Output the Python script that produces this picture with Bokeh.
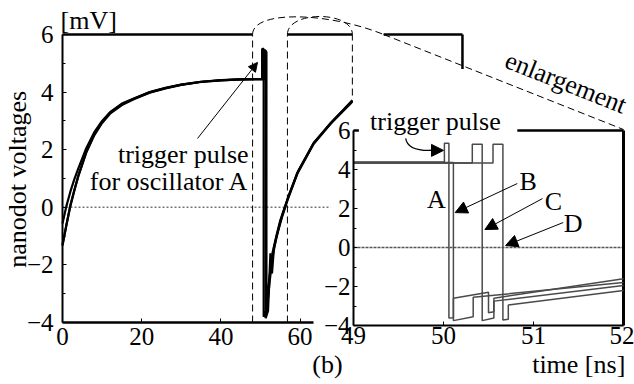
from bokeh.plotting import figure
from bokeh.models import Range1d, LinearAxis, FixedTicker, Label, Arrow, NormalHead
from bokeh.embed import file_html
from bokeh.resources import INLINE

# ---------------- data ----------------
# main panel: nanodot voltages [mV] vs time [ns] (overlapping oscillator traces)
main_t_a = [0, 1, 2, 3, 4, 6, 8, 10, 12, 15, 18, 22, 26, 30, 35, 40, 45, 50.4, 50.4, 50.8, 50.8,
            51.6, 52.3, 53.0, 54.0, 55.0, 56.8, 59.3, 63.4, 67.7, 72.7, 73.2]
main_v_a = [-1.33, -0.6, 0.05, 0.6, 1.08, 1.9, 2.5, 2.93, 3.25, 3.55, 3.75, 3.98, 4.13, 4.25, 4.35, 4.41, 4.44, 4.45, 5.5, 5.5, -3.8,
            -3.55, -2.6, -1.75, -1.05, -0.5, 0.24, 1.17, 2.2, 2.9, 3.6, 3.67]
main_t_b = [0, 1, 2, 3, 4, 6, 8, 10, 12, 15, 18, 22, 26, 30, 35, 40, 45, 50.9, 50.9, 51.3, 51.3,
            51.9, 52.5, 52.9, 53.4, 54.5, 55.5, 57.0, 59.5, 63.5, 68.0, 73.2]
main_v_b = [-0.56, 0.05, 0.55, 0.98, 1.35, 2.05, 2.6, 3.0, 3.3, 3.6, 3.78, 4.0, 4.15, 4.26, 4.36, 4.42, 4.44, 4.45, 5.45, 5.45, -3.85,
            -3.6, -1.6, -2.3, -1.4, -0.8, -0.3, 0.35, 1.25, 2.25, 2.95, 3.72]
main_t_c = [0, 2, 4, 6, 8, 10, 12, 15, 18, 22, 26, 30, 35, 40, 45, 51.2, 51.2, 51.5, 51.5,
            52.2, 53.0, 54.0, 55.0, 56.8, 59.3, 63.4, 67.7, 73.2]
main_v_c = [-1.3, 0.08, 1.1, 1.92, 2.52, 2.96, 3.28, 3.58, 3.77, 3.99, 4.14, 4.26, 4.36, 4.41, 4.44, 4.45, 5.4, 5.4, -3.7,
            -2.5, -1.6, -1.0, -0.45, 0.28, 1.2, 2.22, 2.93, 3.7]

# enlargement panel: oscillators A-D, 49-52 ns
ins_t_A = [49.0, 50.01, 50.01, 50.06, 50.06, 50.11, 50.11, 50.50, 50.50, 50.56, 50.56, 52.0]
ins_v_A = [4.38, 4.38, 5.35, 5.35, -3.62, -3.6, -2.6, -2.3, -3.35, -3.3, -2.6, -1.6]
ins_t_B = [49.0, 50.11, 50.11, 50.33, 50.33, 52.0]
ins_v_B = [4.36, 4.36, -3.75, -3.55, -2.55, -1.8]
ins_t_C = [49.0, 50.32, 50.32, 50.43, 50.43, 50.56, 50.56, 52.0]
ins_v_C = [4.33, 4.33, 5.3, 5.3, -3.75, -3.62, -2.75, -1.95]
ins_t_D = [49.0, 50.55, 50.55, 50.66, 50.66, 50.72, 50.72, 52.0]
ins_v_D = [4.33, 4.33, 5.3, 5.3, -3.72, -3.68, -2.95, -2.2]

main_x_ticks = [0, 20, 40, 60]
main_y_ticks = [-4, -2, 0, 2, 4, 6]
main_y_minor = [-3, -1, 1, 3, 5]
ins_x_ticks = [49, 50, 51, 52]
ins_y_ticks = [-4, -2, 0, 2, 4, 6]
ins_y_minor = [-3, -1, 1, 3, 5]

# ---------------- layout (canvas pixels) ----------------
W, H = 634, 384
MX0, MPX = 62.0, 3.96     # main: t=0 at canvas x, px per ns
MY6, MPY = 34.0, 28.8     # main: v=6 at canvas y, px per mV
IX49, IPX = 353.0, 90.0   # inset: t=49 at canvas x, px per ns
IY6, IPY = 130.0, 19.5    # inset: v=6 at canvas y, px per mV

main_x = Range1d(-MX0 / MPX, (W - MX0) / MPX)
main_y = Range1d(6 - (H - MY6) / MPY, 6 + MY6 / MPY)
ins_x = Range1d(49 - IX49 / IPX, 49 + (W - IX49) / IPX)
ins_y = Range1d(6 - (H - IY6) / IPY, 6 + IY6 / IPY)


def i2m(t, v):
    """inset data -> main data coordinates"""
    cx = IX49 + (t - 49) * IPX
    cy = IY6 - (v - 6) * IPY
    return (cx - MX0) / MPX, 6 - (cy - MY6) / MPY


FONT = "Liberation Serif"

p = figure(width=W, height=H, x_range=main_x, y_range=main_y,
           output_backend="svg", toolbar_location=None,
           x_axis_location=None, y_axis_location=None,
           min_border=0, outline_line_color=None,
           background_fill_color="white", border_fill_color="white")
p.grid.visible = False
p.extra_x_ranges = {"ix": ins_x}
p.extra_y_ranges = {"iy": ins_y}


def style(ax, size="25px", standoff=4, lw=2):
    ax.axis_line_width = lw
    ax.axis_line_color = "black"
    ax.major_tick_in = 4
    ax.major_tick_out = 0
    ax.minor_tick_in = 3
    ax.minor_tick_out = 0
    ax.major_tick_line_color = "black"
    ax.minor_tick_line_color = "black"
    ax.major_label_text_font = FONT
    ax.major_label_text_font_size = size
    ax.major_label_text_color = "black"
    ax.major_label_standoff = standoff


# main axes
ax = LinearAxis(fixed_location=-4, bounds=(0, 63.4),
                ticker=FixedTicker(ticks=main_x_ticks, minor_ticks=[]))
style(ax, standoff=5, lw=2.5)
p.add_layout(ax, "below")
ay = LinearAxis(fixed_location=0, bounds=(-4, 6),
                ticker=FixedTicker(ticks=main_y_ticks, minor_ticks=main_y_minor))
style(ay, standoff=9)
p.add_layout(ay, "left")

# inset axes
bx = LinearAxis(x_range_name="ix", y_range_name="iy", fixed_location=-4, bounds=(49, 52),
                ticker=FixedTicker(ticks=ins_x_ticks, minor_ticks=[]))
style(bx, standoff=1)
p.add_layout(bx, "below")
by = LinearAxis(x_range_name="ix", y_range_name="iy", fixed_location=49, bounds=(-4, 6),
                ticker=FixedTicker(ticks=ins_y_ticks, minor_ticks=ins_y_minor))
style(by, standoff=3)
p.add_layout(by, "left")

DASH = "7 4"
# ---- main decorations ----
X_L, X_R, X_RR, X_END = 48.0, 56.8, 73.2, 101.0
OUT_END = 81.1
# frame top / right pieces
p.segment(x0=[0, X_R, OUT_END], y0=[6, 6, 6], x1=[X_L, X_RR, X_END], y1=[6, 6, 6],
          line_color="black", line_width=2.5)
p.segment(x0=[X_END], y0=[6], x1=[X_END], y1=[4.8], line_color="black", line_width=2.5)
# zero reference line
p.segment(x0=[0], y0=[0], x1=[67.7], y1=[0], line_color="#777777", line_width=1.6, line_dash="2 2")
# dashed verticals
p.segment(x0=[X_L, X_R, X_RR], y0=[-4, -4, 3.88], x1=[X_L, X_R, X_RR], y1=[6, 6, 6],
          line_color="black", line_width=1, line_dash=DASH)
# dashed arcs
top = 6 + 24 / MPY
p.bezier(x0=[X_R], y0=[6], x1=[X_RR], y1=[6], cx0=[X_R], cy0=[top], cx1=[X_RR], cy1=[top],
         line_color="black", line_width=1, line_dash=DASH)
ex, ey = i2m(52, 6.05)
slope = (ey - 6) / (ex - OUT_END)
p.bezier(x0=[X_L], y0=[6], x1=[OUT_END], y1=[6], cx0=[X_L], cy0=[top + 0.02],
         cx1=[OUT_END - 14], cy1=[6 - 14 * slope + 0.02], line_color="black", line_width=1, line_dash=DASH)
p.segment(x0=[OUT_END], y0=[6], x1=[ex], y1=[ey], line_color="black", line_width=1, line_dash=DASH)

# main traces
for t, v in [(main_t_a, main_v_a), (main_t_b, main_v_b), (main_t_c, main_v_c)]:
    p.line(t, v, line_color="black", line_width=2.2)

# ---- inset ----
p.segment(x0=[49], y0=[0], x1=[52], y1=[0], x_range_name="ix", y_range_name="iy",
          line_color="#555555", line_width=1.6, line_dash="3 1")
p.segment(x0=[50.82, 49.0], y0=[6, 6], x1=[52.0, 49.06], y1=[6, 6], x_range_name="ix", y_range_name="iy",
          line_color="black", line_width=2.5)
p.segment(x0=[52], y0=[-4], x1=[52], y1=[6], x_range_name="ix", y_range_name="iy",
          line_color="black", line_width=3)
for t, v in [(ins_t_A, ins_v_A), (ins_t_B, ins_v_B), (ins_t_C, ins_v_C), (ins_t_D, ins_v_D)]:
    p.line(t, v, x_range_name="ix", y_range_name="iy", line_color="#4a4a4a", line_width=1.5)

# ---- texts ----
def lab(text, x, y, rng=None, align="left", base="alphabetic", angle=0, size="26px"):
    kw = dict(x_range_name="ix", y_range_name="iy") if rng == "i" else {}
    p.add_layout(Label(x=x, y=y, text=text, text_font=FONT, text_font_size=size,
                       text_align=align, text_baseline=base, angle=angle, angle_units="deg",
                       text_color="black", **kw))

lab("nanodot voltages", -11.3, 0.97, align="center", angle=90)
lab("[mV]", -0.5, 6.5)
lab("trigger pulse", 47.0, 1.83, align="right")
lab("for oscillator A", 47.0, 0.89, align="right")
lab("(b)", 66.9, -5.46, align="center")
lab("trigger pulse", 49.91, 6.46, rng="i", align="center")
lab("enlargement", 51.36, 8.46, rng="i", align="center", base="middle", angle=-21.5)
lab("A", 49.92, 2.46, rng="i", align="center")
lab("B", 50.94, 3.38, rng="i", align="center")
lab("C", 51.22, 2.36, rng="i", align="center")
lab("D", 51.44, 1.23, rng="i", align="center")
lab("time [ns]", 52.02, -6.0, rng="i", align="right")

# ---- arrows ----
def arrow(x0, y0, x1, y1, rng=None, size=10):
    kw = dict(x_range_name="ix", y_range_name="iy") if rng == "i" else {}
    p.add_layout(Arrow(x_start=x0, y_start=y0, x_end=x1, y_end=y1, line_color="black", line_width=1,
                       end=NormalHead(size=size, fill_color="black", line_color="black"), **kw))

arrow(34.1, 2.39, 49.24, 5.03, size=9)
arrow(50.82, 3.28, 50.13, 1.79, rng="i", size=12)
arrow(51.1, 2.51, 50.46, 0.92, rng="i", size=12)
arrow(51.33, 1.28, 50.69, 0.1, rng="i", size=12)
# curved arrow for inset trigger pulse
p.quadratic(x0=[49.58], y0=[5.6], x1=[49.86], y1=[4.98], cx=[49.6], cy=[4.95],
            x_range_name="ix", y_range_name="iy", line_color="black", line_width=1.2)
arrow(49.84, 4.98, 50.0, 4.98, rng="i", size=12)

open("out.html", "w").write(file_html(p, INLINE))
